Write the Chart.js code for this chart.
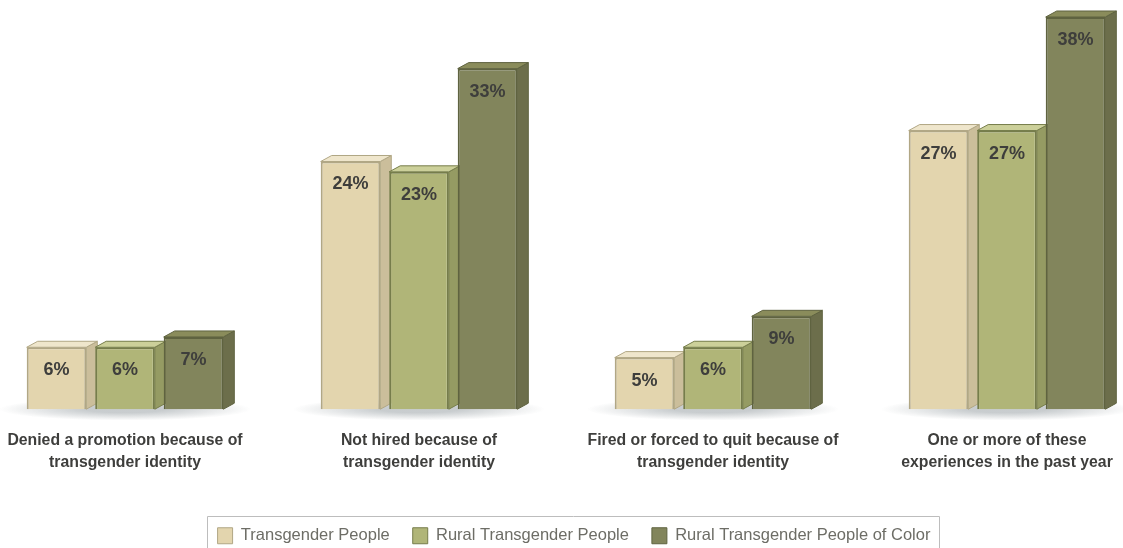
<!DOCTYPE html>
<html>
<head>
<meta charset="utf-8">
<title>Employment experiences</title>
<script src="https://cdn.jsdelivr.net/npm/chart.js@4/dist/chart.umd.js"></script>
<style>
    html, body { margin: 0; padding: 0; background: #fff; overflow: hidden; }
    canvas { display: block; }
</style>
</head>
<body>
<canvas id="myChart" width="1123" height="548"></canvas>
<script>
// Chart data
const categories = [
    ['Denied a promotion because of', 'transgender identity'],
    ['Not hired because of', 'transgender identity'],
    ['Fired or forced to quit because of', 'transgender identity'],
    ['One or more of these', 'experiences in the past year']
];
const transgenderPeople = [6, 24, 5, 27];
const ruralTransgenderPeople = [6, 23, 6, 27];
const ruralPeopleOfColor = [7, 33, 9, 38];

const fontName = '"Liberation Sans", sans-serif';
const depthX = 11;
const depthY = 6;

// front, outline, side and top colours of each series
const tan = { front: '#e3d5ae', line: '#b1a785', side: '#cbbe9b', top: '#efe6cc' };
const green = { front: '#b0b578', line: '#767d4b', side: '#959b63', top: '#ccd09a' };
const dark = { front: '#82855c', line: '#5f6340', side: '#6c6e4b', top: '#8a8c5b' };

function makeDataset(label, data, colors) {
    return {
        label: label,
        data: data,
        backgroundColor: colors.front,
        borderColor: colors.line,
        borderWidth: 2,
        colors: colors,
        clip: false
    };
}

// soft shadow under each group of bars, then top and right faces of all bars
const depthPlugin = {
    id: 'depth',
    beforeDatasetsDraw(chart) {
        const ctx = chart.ctx;
        const base = chart.scales.y.getPixelForValue(0);
        categories.forEach((c, i) => {
            const cx = chart.scales.x.getPixelForValue(i);
            ctx.save();
            ctx.translate(cx, base);
            ctx.scale(1, 0.09);
            const g = ctx.createRadialGradient(0, 0, 40, 0, 0, 126);
            g.addColorStop(0, 'rgba(125,135,140,0.42)');
            g.addColorStop(1, 'rgba(125,135,140,0)');
            ctx.fillStyle = g;
            ctx.beginPath();
            ctx.arc(0, 0, 126, 0, Math.PI * 2);
            ctx.fill();
            ctx.restore();
        });

        chart.data.datasets.forEach((ds, i) => {
            const colors = ds.colors;
            chart.getDatasetMeta(i).data.forEach(bar => {
                const left = bar.x - bar.width / 2;
                const right = bar.x + bar.width / 2;
                ctx.save();
                ctx.lineWidth = 1;
                ctx.strokeStyle = colors.line;
                ctx.fillStyle = colors.side;
                ctx.beginPath();
                ctx.moveTo(right, bar.y);
                ctx.lineTo(right + depthX, bar.y - depthY);
                ctx.lineTo(right + depthX, bar.base - depthY);
                ctx.lineTo(right, bar.base);
                ctx.closePath();
                ctx.fill();
                ctx.stroke();
                ctx.fillStyle = colors.top;
                ctx.beginPath();
                ctx.moveTo(left, bar.y);
                ctx.lineTo(left + depthX, bar.y - depthY);
                ctx.lineTo(right + depthX, bar.y - depthY);
                ctx.lineTo(right, bar.y);
                ctx.closePath();
                ctx.fill();
                ctx.stroke();
                ctx.restore();
            });
        });
    }
};

// percent labels inside the bars
const valuePlugin = {
    id: 'values',
    afterDatasetsDraw(chart) {
        const ctx = chart.ctx;
        ctx.save();
        ctx.font = 'bold 18px ' + fontName;
        ctx.fillStyle = '#3e3e3c';
        ctx.textAlign = 'center';
        ctx.textBaseline = 'middle';
        chart.data.datasets.forEach((ds, i) => {
            chart.getDatasetMeta(i).data.forEach((bar, j) => {
                ctx.fillText(ds.data[j] + '%', bar.x, bar.y + 23);
            });
        });
        ctx.restore();
    }
};

// the legend sits lower and right of where the layout puts it, with an open-bottomed frame
const legendFramePlugin = {
    id: 'legendFrame',
    afterLayout(chart) {
        chart.legend.left += 8;
        chart.legend.right += 8;
        chart.legend.top += 18;
        chart.legend.bottom += 18;
    },
    afterDraw(chart) {
        const boxes = chart.legend.legendHitBoxes;
        const last = boxes[boxes.length - 1];
        const left = Math.round(boxes[0].left - 11) + 0.5;
        const right = Math.round(last.left + last.width + 9) + 0.5;
        const top = Math.round(boxes[0].top - 12) + 0.5;
        const ctx = chart.ctx;
        ctx.save();
        ctx.strokeStyle = '#bdbdbd';
        ctx.lineWidth = 1;
        ctx.beginPath();
        ctx.moveTo(left, chart.height);
        ctx.lineTo(left, top);
        ctx.lineTo(right, top);
        ctx.lineTo(right, chart.height);
        ctx.stroke();
        ctx.restore();
    }
};

const ctx = document.getElementById('myChart').getContext('2d');

const myChart = new Chart(ctx, {
    type: 'bar',
    data: {
        labels: categories,
        datasets: [
            makeDataset('Transgender People', transgenderPeople, tan),
            makeDataset('Rural Transgender People', ruralTransgenderPeople, green),
            makeDataset('Rural Transgender People of Color', ruralPeopleOfColor, dark)
        ]
    },
    plugins: [depthPlugin, valuePlugin, legendFramePlugin],
    options: {
        responsive: false,
        animation: false,
        categoryPercentage: 0.699,
        barPercentage: 0.87,
        layout: { padding: { left: 125, right: 116, top: 17, bottom: 12 } },
        scales: {
            x: {
                offset: false,
                // labels may overhang the plot area, the layout padding already leaves room
                afterFit(scale) {
                    scale.paddingLeft = 0;
                    scale.paddingRight = 0;
                },
                grid: { display: false },
                border: { display: false },
                ticks: {
                    autoSkip: false,
                    maxRotation: 0,
                    minRotation: 0,
                    padding: 13,
                    color: '#3e3e3c',
                    font: { family: fontName, size: 15.8, weight: 'bold', lineHeight: 1.37 }
                }
            },
            y: {
                display: false,
                min: 0,
                max: 38
            }
        },
        plugins: {
            tooltip: { enabled: false },
            legend: {
                position: 'bottom',
                onClick: null,
                labels: {
                    boxWidth: 15,
                    boxHeight: 16,
                    padding: 23,
                    color: '#6d6d66',
                    font: { family: fontName, size: 16.5 },
                    generateLabels(chart) {
                        return chart.data.datasets.map((ds, i) => ({
                            text: ds.label,
                            fillStyle: ds.backgroundColor,
                            strokeStyle: ds.borderColor,
                            lineWidth: 1,
                            fontColor: '#6d6d66',
                            datasetIndex: i
                        }));
                    }
                }
            }
        }
    }
});
</script>
</body>
</html>
